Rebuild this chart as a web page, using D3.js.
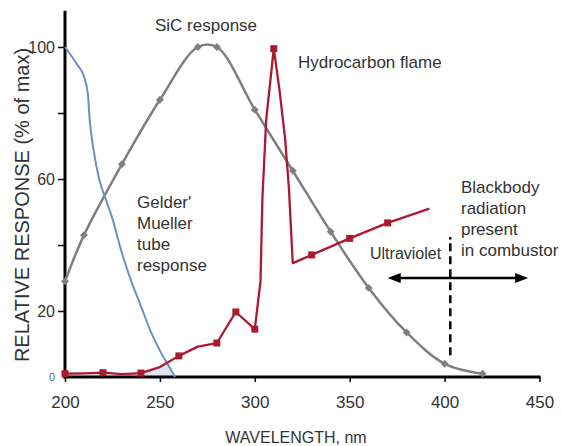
<!DOCTYPE html>
<html>
<head>
<meta charset="utf-8">
<script src="https://cdn.jsdelivr.net/npm/d3@7"></script>
<style>
  body { margin: 0; background: #fff; }
  text { font-family: "Liberation Sans", Arial, sans-serif; fill: #333; }
</style>
</head>
<body>
<div id="viz"></div>
<script>
const width = 561;
const height = 446;

// SiC response (grey line, diamond markers)
const sicNm = [200, 210, 230, 250, 270, 280, 300, 320, 340, 360, 380, 400, 420];
const sicVal = [29, 43, 64.5, 84, 100, 100, 81, 62.5, 44, 27, 13.5, 4, 1];

// Geiger-Mueller tube response (blue line, no markers)
const tubeNm = [200, 206, 210, 212, 213, 215, 218, 222, 225, 229, 234, 240, 245, 250, 255, 258];
const tubeVal = [100, 95, 91, 86, 78, 69, 60, 53, 48, 39.5, 30.5, 21.5, 14, 8, 3, 0];

// Hydrocarbon flame (red line, squares on measured points)
const flameNm = [200, 210, 220, 230, 240, 250, 260, 270, 280, 290, 300, 303, 304, 306, 310, 313, 316, 318, 320, 330, 350, 370, 392];
const flameVal = [1, 1.1, 1.3, 0.9, 1.2, 3, 6.4, 9.2, 10.3, 19.7, 14.5, 29, 54, 78, 99.5, 87, 72, 57, 34.5, 37, 42, 46.7, 51];
const flameMarkNm = [200, 220, 240, 260, 280, 290, 300, 310, 330, 350, 370];

const xTicks = [200, 250, 300, 350, 400, 450];
const yTicks = [20, 40, 60, 80, 100];
const yLabelled = [20, 60, 100];

const blackbodyNm = 403;
const blackbodySpan = [5.8, 40.5];
const blackbodyDot = 42.4;
const uvArrowNm = [370, 444];
const uvArrowVal = 30;

const colors = {sic: '#7f7f7f', tube: '#6d8fc6', flame: '#ad1a30'};

const svg = d3.select('#viz')
  .append('svg')
  .attr('width', width)
  .attr('height', height)
  .attr('viewBox', `0 0 ${width} ${height}`);

const x = d3.scaleLinear().domain([200, 450]).range([65, 539.5]);
const y = d3.scaleLinear().domain([0, 100]).range([377, 47]);

const flamePts = flameNm.map((d, i) => [d, flameVal[i]]);
const tubePts = tubeNm.map((d, i) => [d, tubeVal[i]]);
const sicPts = sicNm.map((d, i) => [d, sicVal[i]]);

// faint blue patch where tube response sits under the flame curve
svg.append('clipPath').attr('id', 'underFlame')
  .append('path')
  .attr('d', d3.area().x(d => x(d[0])).y0(y(0)).y1(d => y(d[1]))(flamePts));

svg.append('path')
  .attr('clip-path', 'url(#underFlame)')
  .attr('fill', '#dde7f3')
  .attr('d', d3.area().x(d => x(d[0])).y0(y(0)).y1(d => y(d[1])).curve(d3.curveMonotoneX)(tubePts));

// axes
const xAxis = svg.append('g')
  .attr('transform', `translate(0,${y(0)})`)
  .call(d3.axisBottom(x).tickValues(xTicks).tickSize(5).tickPadding(14));
xAxis.select('.domain').remove();
xAxis.selectAll('line').attr('stroke', '#000').attr('stroke-width', 1.5);
xAxis.selectAll('text')
  .attr('font-size', 17)
  .attr('font-family', '"Liberation Sans", Arial, sans-serif')
  .attr('fill', '#333');

const yAxis = svg.append('g')
  .attr('transform', `translate(${x(200)},0)`)
  .call(d3.axisLeft(y).tickValues(yTicks).tickSize(7).tickPadding(3)
    .tickFormat(d => yLabelled.includes(d) ? d : ''));
yAxis.select('.domain').remove();
yAxis.selectAll('line').attr('stroke', '#000').attr('stroke-width', 1.5);
yAxis.selectAll('text')
  .attr('font-size', 16)
  .attr('font-family', '"Liberation Sans", Arial, sans-serif')
  .attr('fill', '#333');

svg.append('text')
  .attr('x', x(200) - 10)
  .attr('y', y(0) + 4)
  .attr('text-anchor', 'end')
  .attr('font-size', 11)
  .style('fill', '#4f6384')
  .text('0');

svg.append('line')
  .attr('x1', x(200)).attr('x2', x(200))
  .attr('y1', y(0) + 1.5).attr('y2', y(111))
  .attr('stroke', '#000').attr('stroke-width', 3);
svg.append('line')
  .attr('x1', x(200) - 1.5).attr('x2', x(450) + 1)
  .attr('y1', y(0)).attr('y2', y(0))
  .attr('stroke', '#000').attr('stroke-width', 3);

// SiC curve
svg.append('path')
  .attr('fill', 'none')
  .attr('stroke', colors.sic)
  .attr('stroke-width', 2.5)
  .attr('d', d3.line().x(d => x(d[0])).y(d => y(d[1])).curve(d3.curveCatmullRom.alpha(0.5))(sicPts));

svg.selectAll('.sic-mark')
  .data(sicPts)
  .join('path')
  .attr('class', 'sic-mark')
  .attr('transform', d => `translate(${x(d[0])},${y(d[1])})`)
  .attr('d', d3.symbol(d3.symbolDiamond2, 40))
  .attr('fill', colors.sic);

// tube curve
svg.append('path')
  .attr('fill', 'none')
  .attr('stroke', colors.tube)
  .attr('stroke-width', 2)
  .attr('d', d3.line().x(d => x(d[0])).y(d => y(d[1])).curve(d3.curveMonotoneX)(tubePts));

// flame curve
svg.append('path')
  .attr('fill', 'none')
  .attr('stroke', colors.flame)
  .attr('stroke-width', 2.3)
  .attr('stroke-linejoin', 'round')
  .attr('d', d3.line().x(d => x(d[0])).y(d => y(d[1])).curve(d3.curveLinear)(flamePts));

svg.selectAll('.flame-mark')
  .data(flamePts.filter(d => flameMarkNm.includes(d[0])))
  .join('rect')
  .attr('class', 'flame-mark')
  .attr('x', d => x(d[0]) - 3.5)
  .attr('y', d => y(d[1]) - 3.5)
  .attr('width', 7)
  .attr('height', 7)
  .attr('fill', colors.flame);

// blackbody boundary: a dot, then dashes
svg.append('line')
  .attr('x1', x(blackbodyNm)).attr('x2', x(blackbodyNm))
  .attr('y1', y(blackbodyDot)).attr('y2', y(blackbodyDot) + 2.5)
  .attr('stroke', '#000')
  .attr('stroke-width', 2.5);
svg.append('line')
  .attr('x1', x(blackbodyNm)).attr('x2', x(blackbodyNm))
  .attr('y1', y(blackbodySpan[1])).attr('y2', y(blackbodySpan[0]))
  .attr('stroke', '#000')
  .attr('stroke-width', 2.5)
  .attr('stroke-dasharray', '8,5');

// double arrow
const ax1 = x(uvArrowNm[0]), ax2 = x(uvArrowNm[1]), ay = y(uvArrowVal);
svg.append('line')
  .attr('x1', ax1 + 8).attr('x2', ax2 - 8)
  .attr('y1', ay).attr('y2', ay)
  .attr('stroke', '#000').attr('stroke-width', 2.5);
svg.append('path')
  .attr('d', `M${ax1},${ay}L${ax1 + 13},${ay - 5}L${ax1 + 13},${ay + 5}Z`)
  .attr('fill', '#000');
svg.append('path')
  .attr('d', `M${ax2},${ay}L${ax2 - 13},${ay - 5}L${ax2 - 13},${ay + 5}Z`)
  .attr('fill', '#000');

// annotations
const note = (tx, ty, lines, size) => {
  const t = svg.append('text').attr('font-size', size);
  lines.forEach((s, i) => t.append('tspan').attr('x', tx).attr('y', ty + i * 21).text(s));
};
note(155, 31, ['SiC response'], 17);
note(298, 68, ['Hydrocarbon flame'], 17);
note(137, 208, ["Gelder'", 'Mueller', 'tube', 'response'], 17);
note(461, 193, ['Blackbody', 'radiation', 'present', 'in combustor'], 17);
note(370, 259, ['Ultraviolet'], 16);

// axis titles
svg.append('text')
  .attr('transform', 'translate(29,205) rotate(-90)')
  .attr('text-anchor', 'middle')
  .attr('font-size', 20)
  .text('RELATIVE RESPONSE (% of max)');

svg.append('text')
  .attr('x', 296)
  .attr('y', 443)
  .attr('text-anchor', 'middle')
  .attr('font-size', 16)
  .text('WAVELENGTH, nm');
</script>
</body>
</html>
